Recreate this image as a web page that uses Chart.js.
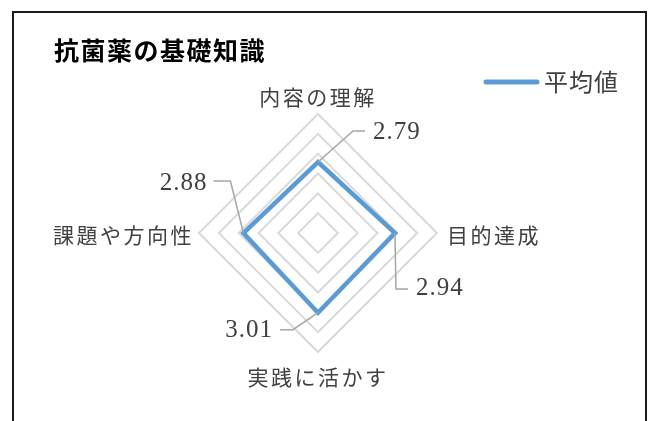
<!DOCTYPE html>
<html>
<head>
<meta charset="utf-8">
<script src="https://cdn.jsdelivr.net/npm/chart.js@4"></script>
<style>
    body { margin: 0; background: #fff; }
</style>
</head>
<body>
<canvas id="radarChart" width="655" height="421"></canvas>
<script>
const chartTitle = '抗菌薬の基礎知識';
const seriesName = '平均値';
const categories = ['内容の理解', '目的達成', '実践に活かす', '課題や方向性'];
const averages = [2.79, 2.94, 3.01, 2.88];
const scaleMin = 1;
const scaleMax = 4;
const scaleStep = 0.5;

const jpFont = '"Noto Sans CJK JP", "Noto Sans", sans-serif';
const numFont = '"Liberation Serif", "DejaVu Serif", serif';
const lineBlue = '#5B9BD5';

// where each point label sits, relative to the outer ring
const labelPlacement = [
    { off: 19, align: 'center' },
    { off: 10, align: 'left' },
    { off: 23, align: 'center' },
    { off: 5, align: 'right' }
];

// leader lines for the value labels: elbow, end, text (relative to the point)
const leaders = [
    { elbow: [35, -31], end: [47, -31], text: [55, -30], align: 'left' },
    { elbow: [1, 56], end: [13, 56], text: [21, 55], align: 'left' },
    { elbow: [-25, 17], end: [-38, 17], text: [-45, 18], align: 'right' },
    { elbow: [-13, -52], end: [-30, -52], text: [-36, -50], align: 'right' }
];

const decorations = {
    id: 'decorations',
    afterDraw(chart) {
        const ctx = chart.ctx;
        const scale = chart.scales.r;
        ctx.save();

        // frame
        ctx.strokeStyle = '#1a1a1a';
        ctx.lineWidth = 2;
        ctx.beginPath();
        ctx.moveTo(13, 430);
        ctx.lineTo(13, 12);
        ctx.lineTo(646, 12);
        ctx.lineTo(646, 430);
        ctx.stroke();

        // title
        ctx.fillStyle = '#000';
        ctx.font = 'bold 25px ' + jpFont;
        ctx.letterSpacing = '1.5px';
        ctx.textAlign = 'left';
        ctx.textBaseline = 'middle';
        ctx.fillText(chartTitle, 54, 50);

        // legend
        ctx.letterSpacing = '1px';
        ctx.strokeStyle = lineBlue;
        ctx.lineWidth = 5;
        ctx.lineCap = 'round';
        ctx.beginPath();
        ctx.moveTo(486, 82);
        ctx.lineTo(537, 82);
        ctx.stroke();
        ctx.fillStyle = '#404040';
        ctx.font = '24px ' + jpFont;
        ctx.fillText(seriesName, 544, 82);

        // point labels
        ctx.font = '21px ' + jpFont;
        ctx.letterSpacing = '2.5px';
        categories.forEach((cat, i) => {
            const p = scale.getPointPosition(i, scale.drawingArea + labelPlacement[i].off);
            ctx.textAlign = labelPlacement[i].align;
            ctx.fillText(cat, p.x, p.y + 2);
        });

        // value labels with leader lines
        ctx.letterSpacing = '1px';
        ctx.font = '25px ' + numFont;
        const meta = chart.getDatasetMeta(0);
        meta.data.forEach((pt, i) => {
            const l = leaders[i];
            ctx.strokeStyle = '#A6A6A6';
            ctx.lineWidth = 1.5;
            ctx.lineCap = 'butt';
            ctx.beginPath();
            ctx.moveTo(pt.x, pt.y);
            ctx.lineTo(pt.x + l.elbow[0], pt.y + l.elbow[1]);
            ctx.lineTo(pt.x + l.end[0], pt.y + l.end[1]);
            ctx.stroke();
            ctx.textAlign = l.align;
            ctx.fillStyle = '#404040';
            ctx.fillText(averages[i].toFixed(2), pt.x + l.text[0], pt.y + l.text[1]);
        });

        ctx.restore();
    }
};

new Chart(document.getElementById('radarChart'), {
    type: 'radar',
    data: {
        labels: categories,
        datasets: [{
            label: seriesName,
            data: averages,
            borderColor: lineBlue,
            borderWidth: 4.5,
            pointRadius: 0,
            fill: false
        }]
    },
    options: {
        responsive: false,
        animation: false,
        layout: {
            padding: { left: 199, right: 217, top: 114, bottom: 68 }
        },
        plugins: {
            legend: { display: false },
            tooltip: { enabled: false }
        },
        scales: {
            r: {
                min: scaleMin,
                max: scaleMax,
                ticks: { display: false, stepSize: scaleStep },
                grid: { color: '#D9D9D9', lineWidth: 2 },
                angleLines: { display: false },
                pointLabels: { display: false }
            }
        }
    },
    plugins: [decorations]
});
</script>
</body>
</html>
